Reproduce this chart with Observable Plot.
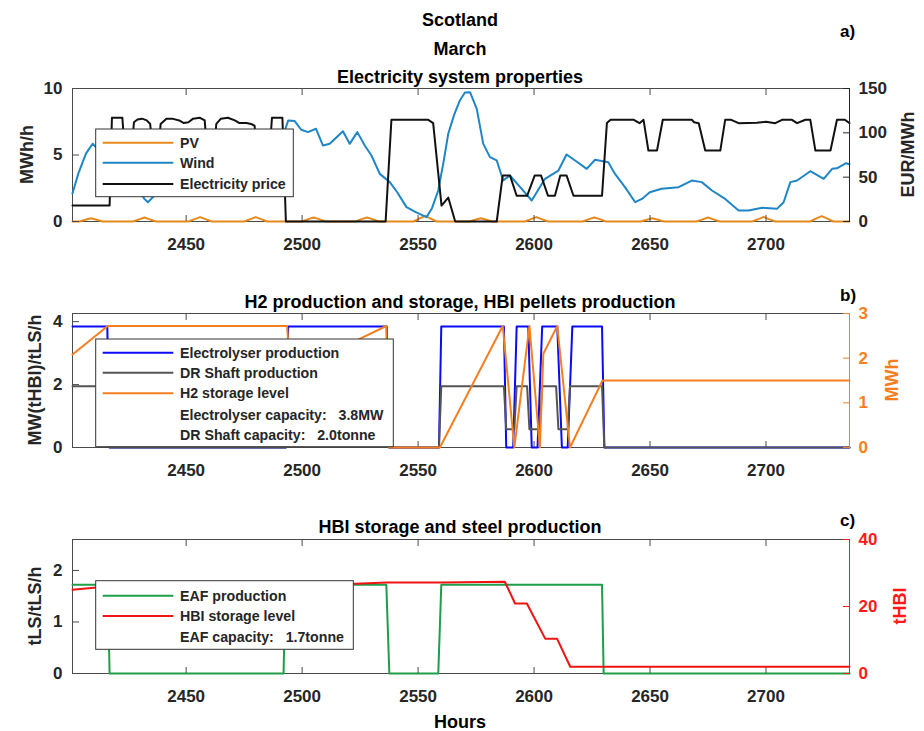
<!DOCTYPE html>
<html><head><meta charset="utf-8">
<script src="https://cdn.jsdelivr.net/npm/d3@7"></script>
<script src="https://cdn.jsdelivr.net/npm/@observablehq/plot@0.6"></script>
<style>
body{margin:0;background:#fff;}
#chart{position:relative;width:924px;height:731px;background:#fff;overflow:hidden;}
#chart svg{position:absolute;left:0;}
</style></head><body><div id="chart"></div>
<script>
// ---------- data ----------
const hourDomain = [2401, 2736];
const xTicks = [2450, 2500, 2550, 2600, 2650, 2700];

// Panel a) Electricity system properties  [hour, MWh/h]
const pv = [[2401,0],[2404,0],[2407,0.15],[2409,0.25],[2411,0.15],[2414,0],
 [2427,0],[2430,0.18],[2432,0.3],[2434,0.18],[2437,0],
 [2451,0],[2454,0.2],[2456,0.33],[2458,0.2],[2461,0],
 [2475,0],[2478,0.2],[2480,0.33],[2482,0.2],[2485,0],
 [2500,0],[2503,0.2],[2505,0.3],[2507,0.2],[2510,0],
 [2523,0],[2526,0.2],[2528,0.3],[2530,0.2],[2533,0],
 [2548,0],[2551,0.25],[2553,0.42],[2555,0.25],[2558,0],
 [2572,0],[2575,0.15],[2577,0.25],[2579,0.15],[2582,0],
 [2596,0],[2599,0.2],[2601,0.33],[2603,0.2],[2606,0],
 [2621,0],[2624,0.2],[2626,0.3],[2628,0.2],[2631,0],
 [2646,0],[2649,0.15],[2651,0.25],[2653,0.15],[2656,0],
 [2670,0],[2673,0.18],[2675,0.3],[2677,0.18],[2680,0],
 [2694,0],[2697,0.2],[2699,0.35],[2701,0.2],[2704,0],
 [2719,0],[2722,0.25],[2724,0.4],[2726,0.25],[2729,0],[2736,0]];
const wind = [[2401,2.1],[2403.5,3.6],[2406.8,5.1],[2409.7,5.85],[2411,5.6],[2413,5.2],[2417,4.6],
 [2421,3.9],[2425,3.4],[2429,2.6],[2432,1.7],[2433.5,1.45],[2435.5,1.8],[2440,2.6],[2446,3.4],
 [2452,4.2],[2458,5.0],[2464,5.5],[2470,5.9],[2476,6.1],[2482,6.3],[2488,6.4],[2492.5,6.8],
 [2494,7.6],[2496.8,7.55],[2499.6,6.9],[2502.5,6.72],[2506,6.97],[2509,5.71],[2511.9,5.84],
 [2517.6,6.79],[2520.5,5.84],[2523.8,6.72],[2527,5.71],[2529.9,4.96],[2533.5,3.58],[2537.8,2.96],
 [2541,2.2],[2545,1.08],[2549,0.7],[2553.6,0.33],[2556,1.0],[2558.7,2.33],[2561,4.5],[2563,6.6],
 [2565.5,8.0],[2568,9.1],[2570.2,9.7],[2572.4,9.72],[2575.3,8.47],[2578.1,5.84],[2581,4.84],
 [2583.9,4.59],[2586.7,3.08],[2589.6,3.46],[2594,2.58],[2599,1.58],[2604.7,3.21],[2610.5,3.83],
 [2614,5.04],[2617.7,4.59],[2622.7,3.96],[2626.3,4.64],[2632,4.46],[2634.9,3.58],[2639.2,2.58],
 [2643.6,1.45],[2646.5,1.7],[2649.9,2.2],[2655,2.46],[2662.3,2.58],[2668,3.08],[2672.3,2.96],
 [2676.7,2.33],[2682.4,1.7],[2688.2,0.83],[2692.5,0.83],[2698.3,1.03],[2704.7,0.95],[2707.6,1.45],
 [2710.5,2.96],[2713.4,3.08],[2719.1,3.78],[2724.9,3.21],[2728.5,3.96],[2730.6,4.0],[2734.5,4.38],[2736,4.3]];
// [hour, EUR/MWh]
const price = [[2401,18],[2417,18],[2418,117],[2422.5,117],[2423.5,80],[2426.5,80],[2427.5,112],
 [2429,115],[2431,116],[2433,114],[2434.5,110],[2435.5,80],[2438,80],[2439,110],[2441.5,116],
 [2444,116],[2447,114],[2449,111],[2451,112],[2453,116],[2456,117],[2458,114],[2459,80],[2462,80],
 [2463,110],[2465,116],[2468,117],[2471,114],[2473,111],[2476,111],[2478,110],[2479.5,108],
 [2480.5,80],[2486,80],[2487,117],[2491.5,117],[2493,0],[2536,0],[2538.5,114.7],[2554.4,114.7],
 [2556.5,111],[2560.1,18],[2563,27],[2566,0],[2583.9,0],[2586.5,52],[2589.6,52],[2592.5,29],
 [2597,29],[2600.3,52],[2603,52],[2606,29],[2609,29],[2611.3,52],[2614,52],[2617,29],[2629.3,29],
 [2631.4,111],[2633,114.7],[2640,114.7],[2643,114.7],[2645.5,110.9],[2647.2,114.7],[2649.3,80],
 [2653,80],[2655.5,114.7],[2668,114.7],[2669,112],[2671,110.9],[2673.8,80],[2680.3,80],[2682.4,114.7],
 [2685,114.7],[2688.2,110.9],[2696,111.5],[2700,112.5],[2704,110.9],[2706.9,114.7],[2711.2,114.7],
 [2713.4,110.9],[2717,114.7],[2719.1,114.7],[2721.3,80],[2727.8,80],[2730.6,114.7],[2734,114.7],[2736,110.9]];

// Panel b) H2 production and storage  [hour, MW or tHBI/h]
const electrolyser = [[2401,3.85],[2416,3.85],[2417,0],[2493,0],[2494,3.85],[2536.5,3.85],[2537.5,0],
 [2559,0],[2560,3.85],[2587,3.85],[2588,0],[2591,0],[2592.5,3.85],[2597.5,3.85],[2599,0],[2601.5,0],
 [2603.5,3.85],[2610,3.85],[2612,0],[2614.5,0],[2616.5,3.85],[2629.3,3.85],[2630.3,0],[2736,0]];
const drShaft = [[2401,1.95],[2416,1.95],[2417,0],[2493,0],[2494,1.95],[2536.5,1.95],[2537.5,0],
 [2559,0],[2560,1.95],[2587,1.95],[2588,0.58],[2591.5,0.58],[2592.5,1.95],[2597,1.95],[2598,0.58],
 [2602.5,0.58],[2603.5,1.95],[2609.5,1.95],[2610.5,0.58],[2614.5,0.58],[2615.5,1.95],[2629.3,1.95],
 [2630.3,0],[2736,0]];
// [hour, MWh]
const h2Storage = [[2401,2.08],[2416.2,2.72],[2493.5,2.72],[2495,1.69],[2525.5,2.45],[2536.3,2.72],
 [2537.5,0],[2559.4,0],[2586.5,2.72],[2591.5,0],[2598,2.72],[2602.5,0],[2604,2.1],[2610,2.72],
 [2615.5,0],[2629.5,1.5],[2736,1.5]];

// Panel c) HBI storage and steel production  [hour, tLS/h]
const eaf = [[2401,1.72],[2416.2,1.72],[2417,0],[2492,0],[2492.8,1.72],[2536.3,1.72],[2537.6,0],
 [2558.7,0],[2560,1.72],[2629.3,1.72],[2630,0],[2736,0]];
// [hour, tHBI]
const hbiStorage = [[2401,25.0],[2416,26.0],[2493,26.0],[2536.5,27.2],[2560,27.2],[2587.4,27.4],
 [2591.8,20.9],[2596.9,20.9],[2604.8,10.4],[2609.9,10.4],[2615.6,2.0],[2736,2.0]];

// ---------- drawing ----------
const chart = document.getElementById("chart");
const FONT = '"Liberation Sans", Arial, Helvetica, sans-serif';
const AX = "#262626", FRAME = "#4a4a4a";
const C = {pv:"#E8891C", wind:"#1F86C6", price:"#111111", elec:"#0A0AF5", dr:"#555555",
  h2:"#F57F20", eaf:"#1E9E48", hbi:"#EE1414", right2:"#F57F20", right3:"#FF1A1A"};
const toObj = a => a.map(([h, v]) => ({h, v}));
const W = 924, ML = 72, MR = 75;
const fmt = d => String(d);

function panel({top, height, mTop, mBottom, yDomain, yTicks, axisColor, lines, base}) {
  const marks = [];
  if (base) marks.push(Plot.frame({stroke: FRAME}));
  for (const l of lines) marks.push(Plot.line(toObj(l.data), {x: "h", y: "v", stroke: l.color, strokeWidth: 2}));
  if (base) {
    marks.push(Plot.axisX({ticks: xTicks, tickSize: -6, tickPadding: 22, tickFormat: fmt, label: null, fill: AX, stroke: FRAME}));
    marks.push(Plot.axisX({anchor: "top", ticks: xTicks, tickSize: -6, tickFormat: () => "", label: null, stroke: FRAME}));
    marks.push(Plot.axisY({anchor: "left", ticks: yTicks, tickSize: -7, tickPadding: 17, tickFormat: fmt, label: null, fill: AX, stroke: FRAME}));
  } else {
    marks.push(Plot.ruleX([hourDomain[1]], {stroke: axisColor}));
    marks.push(Plot.axisY({anchor: "right", ticks: yTicks, tickSize: -7, tickPadding: 16, tickFormat: fmt, label: null, fill: axisColor, stroke: axisColor}));
  }
  const p = Plot.plot({
    width: W, height, marginLeft: ML, marginRight: MR, marginTop: mTop, marginBottom: mBottom,
    x: {domain: hourDomain, axis: base ? undefined : null},
    y: {domain: yDomain},
    style: {background: "transparent", fontFamily: FONT, fontSize: "17px", fontWeight: "bold", overflow: "visible"},
    marks
  });
  p.style.top = top + "px";
  chart.append(p);
}

// Panel a
panel({top: 0, height: 260, mTop: 88, mBottom: 39, yDomain: [0, 10], yTicks: [0, 5, 10], base: true,
  lines: [{data: pv, color: C.pv}, {data: wind, color: C.wind}]});
panel({top: 0, height: 260, mTop: 88, mBottom: 39, yDomain: [0, 150], yTicks: [0, 50, 100, 150], axisColor: AX,
  lines: [{data: price, color: C.price}]});
// Panel b
panel({top: 260, height: 215, mTop: 53, mBottom: 28, yDomain: [0, 4.26], yTicks: [0, 2, 4], base: true,
  lines: [{data: electrolyser, color: C.elec}, {data: drShaft, color: C.dr}]});
panel({top: 260, height: 215, mTop: 53, mBottom: 28, yDomain: [0, 3], yTicks: [0, 1, 2, 3], axisColor: C.right2,
  lines: [{data: h2Storage, color: C.h2}]});
// Panel c
panel({top: 475, height: 256, mTop: 64, mBottom: 58, yDomain: [0, 2.6], yTicks: [0, 1, 2], base: true,
  lines: [{data: eaf, color: C.eaf}]});
panel({top: 475, height: 256, mTop: 64, mBottom: 58, yDomain: [0, 40], yTicks: [0, 20, 40], axisColor: C.right3,
  lines: [{data: hbiStorage, color: C.hbi}]});

// ---------- text & legends overlay ----------
const svg = d3.select(chart).append("svg").attr("width", W).attr("height", 731).style("top", "0px")
  .style("font-family", FONT).style("font-weight", "bold");
function txt(x, y, s, size, opts = {}) {
  const t = svg.append("text").attr("x", x).attr("y", y).text(s).attr("font-size", size)
    .attr("fill", opts.fill || "#000").attr("text-anchor", opts.anchor || "middle").style("white-space", "pre");
  if (opts.rotate) t.attr("transform", `rotate(-90 ${x} ${y})`);
  return t;
}
txt(460, 26, "Scotland", 18);
txt(460, 55, "March", 18);
txt(460, 83, "Electricity system properties", 18);
txt(460, 308, "H2 production and storage, HBI pellets production", 18);
txt(460, 533, "HBI storage and steel production", 18);
txt(840, 37, "a)", 17, {anchor: "start"});
txt(840, 301, "b)", 17, {anchor: "start"});
txt(840, 526, "c)", 17, {anchor: "start"});
txt(460, 728, "Hours", 18);
txt(33, 154.5, "MWh/h", 18, {rotate: true, fill: AX});
txt(41, 380, "MW(tHBI)/tLS/h", 18, {rotate: true, fill: AX});
txt(41, 606, "tLS/tLS/h", 18, {rotate: true, fill: AX});
txt(914, 154.5, "EUR/MWh", 18, {rotate: true, fill: AX});
txt(898, 380, "MWh", 18, {rotate: true, fill: C.right2});
txt(906, 606, "tHBI", 18, {rotate: true, fill: C.right3});

function legend(x0, y0, x1, y1, rows) {
  svg.append("rect").attr("x", x0).attr("y", y0).attr("width", x1 - x0).attr("height", y1 - y0)
    .attr("fill", "#fff").attr("stroke", "#333").attr("stroke-width", 1);
  for (const r of rows) {
    if (r.color) svg.append("line").attr("x1", 102.7).attr("x2", 173.3).attr("y1", r.y).attr("y2", r.y)
      .attr("stroke", r.color).attr("stroke-width", 2);
    txt(180, r.y, r.label, 14.2, {anchor: "start", fill: AX}).attr("dy", "0.36em");
  }
}
legend(95.7, 129, 293.3, 196.7, [
  {label: "PV", color: C.pv, y: 142.7}, {label: "Wind", color: C.wind, y: 162.7},
  {label: "Electricity price", color: C.price, y: 184}]);
legend(95.7, 339, 393.3, 446.7, [
  {label: "Electrolyser production", color: C.elec, y: 352.7},
  {label: "DR Shaft production", color: C.dr, y: 372.7},
  {label: "H2 storage level", color: C.h2, y: 393.3},
  {label: "Electrolyser capacity:   3.8MW", y: 415},
  {label: "DR Shaft capacity:   2.0tonne", y: 435}]);
legend(95.7, 580.7, 353.3, 649.3, [
  {label: "EAF production", color: C.eaf, y: 595.7},
  {label: "HBI storage level", color: C.hbi, y: 616},
  {label: "EAF capacity:   1.7tonne", y: 636.7}]);
</script></body></html>
